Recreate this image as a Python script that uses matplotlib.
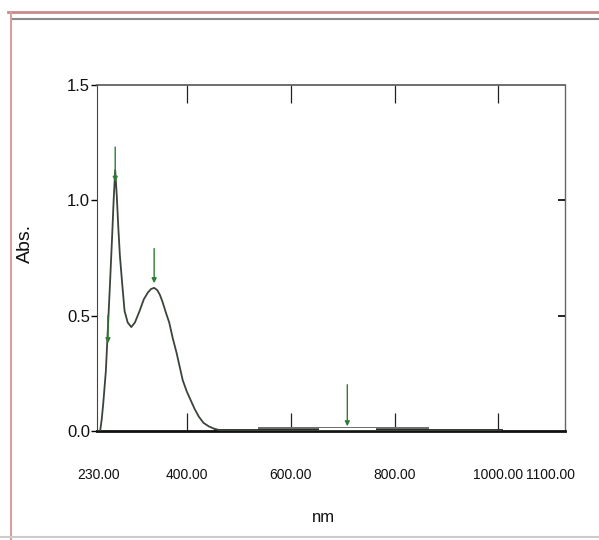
import matplotlib.pyplot as plt
from matplotlib.lines import Line2D

# spectrum
wavelength = [230, 233, 236, 239, 244, 248, 252, 256, 259, 262, 265, 268, 271, 275,
              280, 286, 293, 300, 309, 317, 325, 331, 337, 343, 348, 353, 360, 366,
              373, 380, 386, 392, 400, 407, 415, 423, 432, 442, 452, 462, 480, 520,
              600, 700, 800, 900, 1005]
absorbance = [0.0, 0.0, 0.05, 0.12, 0.26, 0.45, 0.64, 0.84, 1.0, 1.13, 1.02, 0.88, 0.76, 0.65,
              0.52, 0.47, 0.45, 0.47, 0.52, 0.57, 0.60, 0.615, 0.62, 0.61, 0.59, 0.56, 0.51, 0.47,
              0.40, 0.34, 0.28, 0.22, 0.17, 0.135, 0.095, 0.062, 0.035, 0.02, 0.01, 0.004, 0.0, 0.0,
              0.0, 0.0, 0.0, 0.0, 0.0]

peak_marks = [248, 262, 337, 709]
peak_tops = [0.50, 1.23, 0.79, 0.20]
peak_ends = [0.38, 1.08, 0.64, 0.02]

band_grey = (537, 866)
band_white = (654, 765)

xtick_vals = [230, 400, 600, 800, 1000, 1100]
xtick_labels = ['230.00', '400.00', '600.00', '800.00', '1000.00', '1100.00']
ytick_vals = [0.0, 0.5, 1.0, 1.5]
ytick_labels = ['0.0', '0.5', '1.0', '1.5']

font = 'Liberation Sans'

fig = plt.figure(figsize=(5.99, 5.4), dpi=100)
ax = fig.add_axes([0.162, 0.202, 0.781, 0.641])

ax.plot(wavelength, absorbance, color='#3a443a', lw=1.3, zorder=3)

# baseline bands along zero
ax.fill_between(band_grey, 0, 0.018, color='#6e6e6e', lw=0, zorder=2)
ax.fill_between(band_white, 0.005, 0.013, color='white', lw=0, zorder=2.5)
ax.plot([455, 1005], [0.004, 0.004], color='#222222', lw=2.0, zorder=2)

for x, y0, y1 in zip(peak_marks, peak_tops, peak_ends):
    ax.annotate('', xy=(x, y1), xytext=(x, y0),
                arrowprops=dict(arrowstyle='-|>', color='#2e7d32', lw=1.0,
                                mutation_scale=7, shrinkA=0, shrinkB=0),
                zorder=4)

ax.set_xlim(227, 1128)
ax.set_ylim(0, 1.5)

ax.xaxis.remove_overlapping_locs = False
ax.set_xticks(xtick_vals)
ax.set_xticklabels(xtick_labels, family=font, fontsize=10, color='#111111')
ax.set_xticks([400, 600, 800, 1000], minor=True)
ax.tick_params(axis='x', which='major', length=0, pad=27)
ax.tick_params(axis='x', which='minor', direction='in', length=13, width=0.9,
               top=True, bottom=True, color='#222222')

ax.set_yticks(ytick_vals)
ax.set_yticklabels(ytick_labels, family=font, fontsize=12, color='#111111')
ax.tick_params(axis='y', direction='out', length=4, width=1, pad=1)

ax2 = ax.twinx()
ax2.set_ylim(0, 1.5)
ax2.set_yticks([0.5, 1.0])
ax2.tick_params(axis='y', direction='in', length=5, width=1.2, labelright=False)
ax2.spines[:].set_visible(False)

ax.spines['bottom'].set_linewidth(2.0)
ax.spines['bottom'].set_color('#111111')
ax.spines['left'].set_color('#444444')
ax.spines['top'].set_color('#555555')
ax.spines['right'].set_color('#666666')
ax.spines['top'].set_linewidth(1.2)
ax.spines['right'].set_linewidth(1.0)

ax.set_xlabel('nm', family=font, fontsize=12, color='#111111')
ax.xaxis.set_label_coords(0.483, -0.228)
fig.text(0.042, 0.55, 'Abs.', rotation=90, fontsize=14, ha='center', va='center',
         family=font, color='#111111')

# window frame of the screenshot
fig.add_artist(Line2D([0.013, 1.0], [0.977, 0.977], color='#c98a8a', lw=2.0))
fig.add_artist(Line2D([0.02, 1.0], [0.964, 0.964], color='#8a8a8a', lw=1.5))
fig.add_artist(Line2D([0.018, 0.018], [0.0, 0.977], color='#d4a0a0', lw=1.5))
fig.add_artist(Line2D([0.0, 1.0], [0.005, 0.005], color='#cccccc', lw=1.5))

fig.savefig('out.png', dpi=100)
